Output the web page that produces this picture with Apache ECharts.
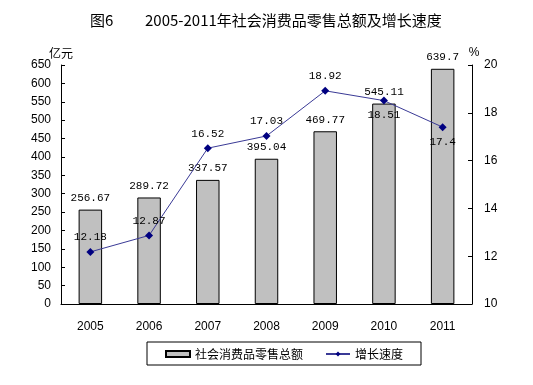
<!DOCTYPE html>
<html><head><meta charset="utf-8">
<script src="https://cdn.jsdelivr.net/npm/echarts@6/dist/echarts.min.js"></script>
<style>html,body{margin:0;padding:0;background:#fff}#c{width:533px;height:385px}</style>
</head><body><div id="c"></div>
<script>
const years = ['2005','2006','2007','2008','2009','2010','2011'];
const sales = [256.67, 289.72, 337.57, 395.04, 469.77, 545.11, 639.7];
const growth = [12.18, 12.87, 16.52, 17.03, 18.92, 18.51, 17.4];
const growthLabelPos = ['top','top','top','top','top','bottom','bottom'];
const salesName = '社会消费品零售总额';
const growthName = '增长速度';

const chart = echarts.init(document.getElementById('c'), null, {renderer:'canvas'});
const labelFont = {fontFamily:'Liberation Mono, monospace', fontSize:11, color:'#000'};
chart.setOption({
  animation:false,
  backgroundColor:'#fff',
  title:[
    {text:'图6', left:90, top:13, padding:0, textStyle:{fontFamily:'Noto Sans CJK SC', fontSize:15, fontWeight:'normal', color:'#000'}},
    {text:'2005-2011年社会消费品零售总额及增长速度', left:145, top:13, padding:0, textStyle:{fontFamily:'Noto Sans CJK SC', fontSize:15, fontWeight:'normal', color:'#000'}}
  ],
  grid:{left:61, right:61, top:65, bottom:81},
  legend:{
    left:147, top:342, width:240,
    borderColor:'#000', borderWidth:1, padding:[6,18,5,18], itemGap:22,
    itemWidth:24, itemHeight:6,
    textStyle:{fontFamily:'Noto Sans CJK SC', fontSize:12, color:'#000'},
    data:[{name:salesName, icon:'rect'}, {name:growthName}]
  },
  xAxis:{
    type:'category', data:years, boundaryGap:true,
    axisLine:{lineStyle:{color:'#000'}},
    axisTick:{inside:true, length:4, lineStyle:{color:'#000'}},
    axisLabel:{fontFamily:'Liberation Sans, Arial', fontSize:12, color:'#000', margin:17}
  },
  yAxis:[
    {type:'value', min:0, max:650, interval:50, name:'亿元', nameGap:5,
     nameTextStyle:{fontFamily:'Noto Sans CJK SC', fontSize:12, color:'#000', align:'center'},
     axisLine:{show:true, lineStyle:{color:'#000'}},
     axisTick:{show:true, inside:true, length:4, lineStyle:{color:'#000'}},
     splitLine:{show:false},
     axisLabel:{fontFamily:'Liberation Sans, Arial', fontSize:12, color:'#000', margin:10}},
    {type:'value', min:10, max:20, interval:2, name:'%', nameGap:6,
     nameTextStyle:{fontFamily:'Liberation Sans, Arial', fontSize:12, color:'#000', align:'center', padding:[0,0,0,4]},
     axisLine:{show:true, lineStyle:{color:'#000'}},
     axisTick:{show:true, inside:true, length:4, lineStyle:{color:'#000'}},
     splitLine:{show:false},
     axisLabel:{fontFamily:'Liberation Sans, Arial', fontSize:12, color:'#000', margin:12}}
  ],
  series:[
    {name:salesName, type:'bar', data:sales, barWidth:'40%',
     itemStyle:{color:'#c0c0c0', borderColor:'#000', borderWidth:1},
     label:{show:true, position:'top', distance:6, ...labelFont}},
    {name:growthName, type:'line', yAxisIndex:1,
     data:growth.map((v,i)=>({value:v, label:{position:growthLabelPos[i]}})),
     symbol:'diamond', symbolSize:8,
     lineStyle:{color:'#3a3a96', width:1},
     itemStyle:{color:'#000080'},
     label:{show:true, distance:5, ...labelFont}}
  ]
});
</script></body></html>
